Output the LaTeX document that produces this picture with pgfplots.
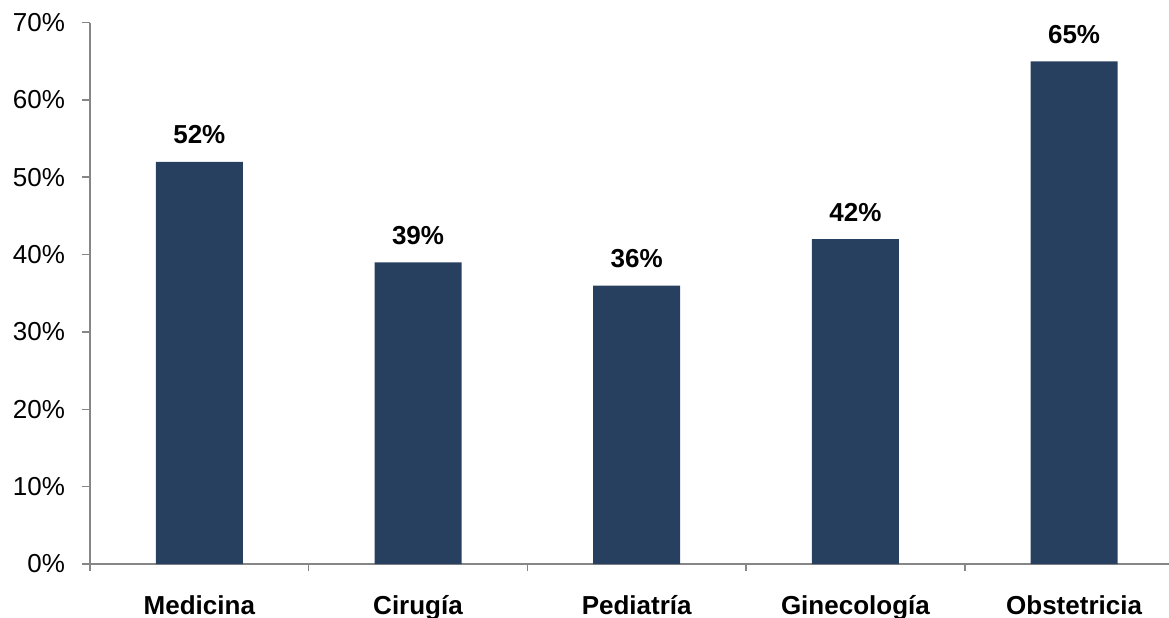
\documentclass[border=0pt]{standalone}
\usepackage{pgfplots}
\pgfplotsset{compat=1.18}
\usepackage{fontspec}
\setmainfont{Liberation Sans}
\definecolor{barblue}{RGB}{39,64,96}
\definecolor{axgray}{RGB}{134,134,134}
\begin{document}
\begin{tikzpicture}
\useasboundingbox (-45pt,-26.5pt) rectangle (539.5pt,282pt);
\begin{axis}[
  at={(0,0)}, anchor=south west,
  scale only axis,
  width=539.5pt, height=270.7pt,
  xmin=-0.5, xmax=4.434,
  ymin=0, ymax=70,
  axis lines*=left,
  axis line style={axgray, line width=0.8pt},
  ybar, bar width=43.5pt,
  xtick={0,1,2,3,4},
  xticklabels={Medicina,Cirugía,Pediatría,Ginecología,Obstetricia},
  major x tick style={draw=none},
  minor xtick={-0.5,0.5,1.5,2.5,3.5},
  minor x tick style={axgray, line width=0.8pt},
  minor tick length=3.5pt,
  ytick={0,10,...,70},
  yticklabels={0\%,10\%,20\%,30\%,40\%,50\%,60\%,70\%},
  major y tick style={axgray, line width=0.8pt},
  major tick length=4pt,
  tick align=outside,
  xticklabel style={font=\fontsize{13}{15}\selectfont\bfseries, anchor=base, inner sep=0pt, yshift=-21pt},
  yticklabel style={font=\fontsize{13}{15}\selectfont, xshift=-5pt},
  nodes near coords={\pgfmathprintnumber[assume math mode=true]{\pgfplotspointmeta}\%},
  every node near coord/.append style={font=\fontsize{13}{15}\selectfont\bfseries, anchor=base, inner sep=0pt, yshift=9pt, black},
  clip=false,
]
\addplot[fill=barblue, draw=none] coordinates {(0,52) (1,39) (2,36) (3,42) (4,65)};
\end{axis}
\end{tikzpicture}
\end{document}
